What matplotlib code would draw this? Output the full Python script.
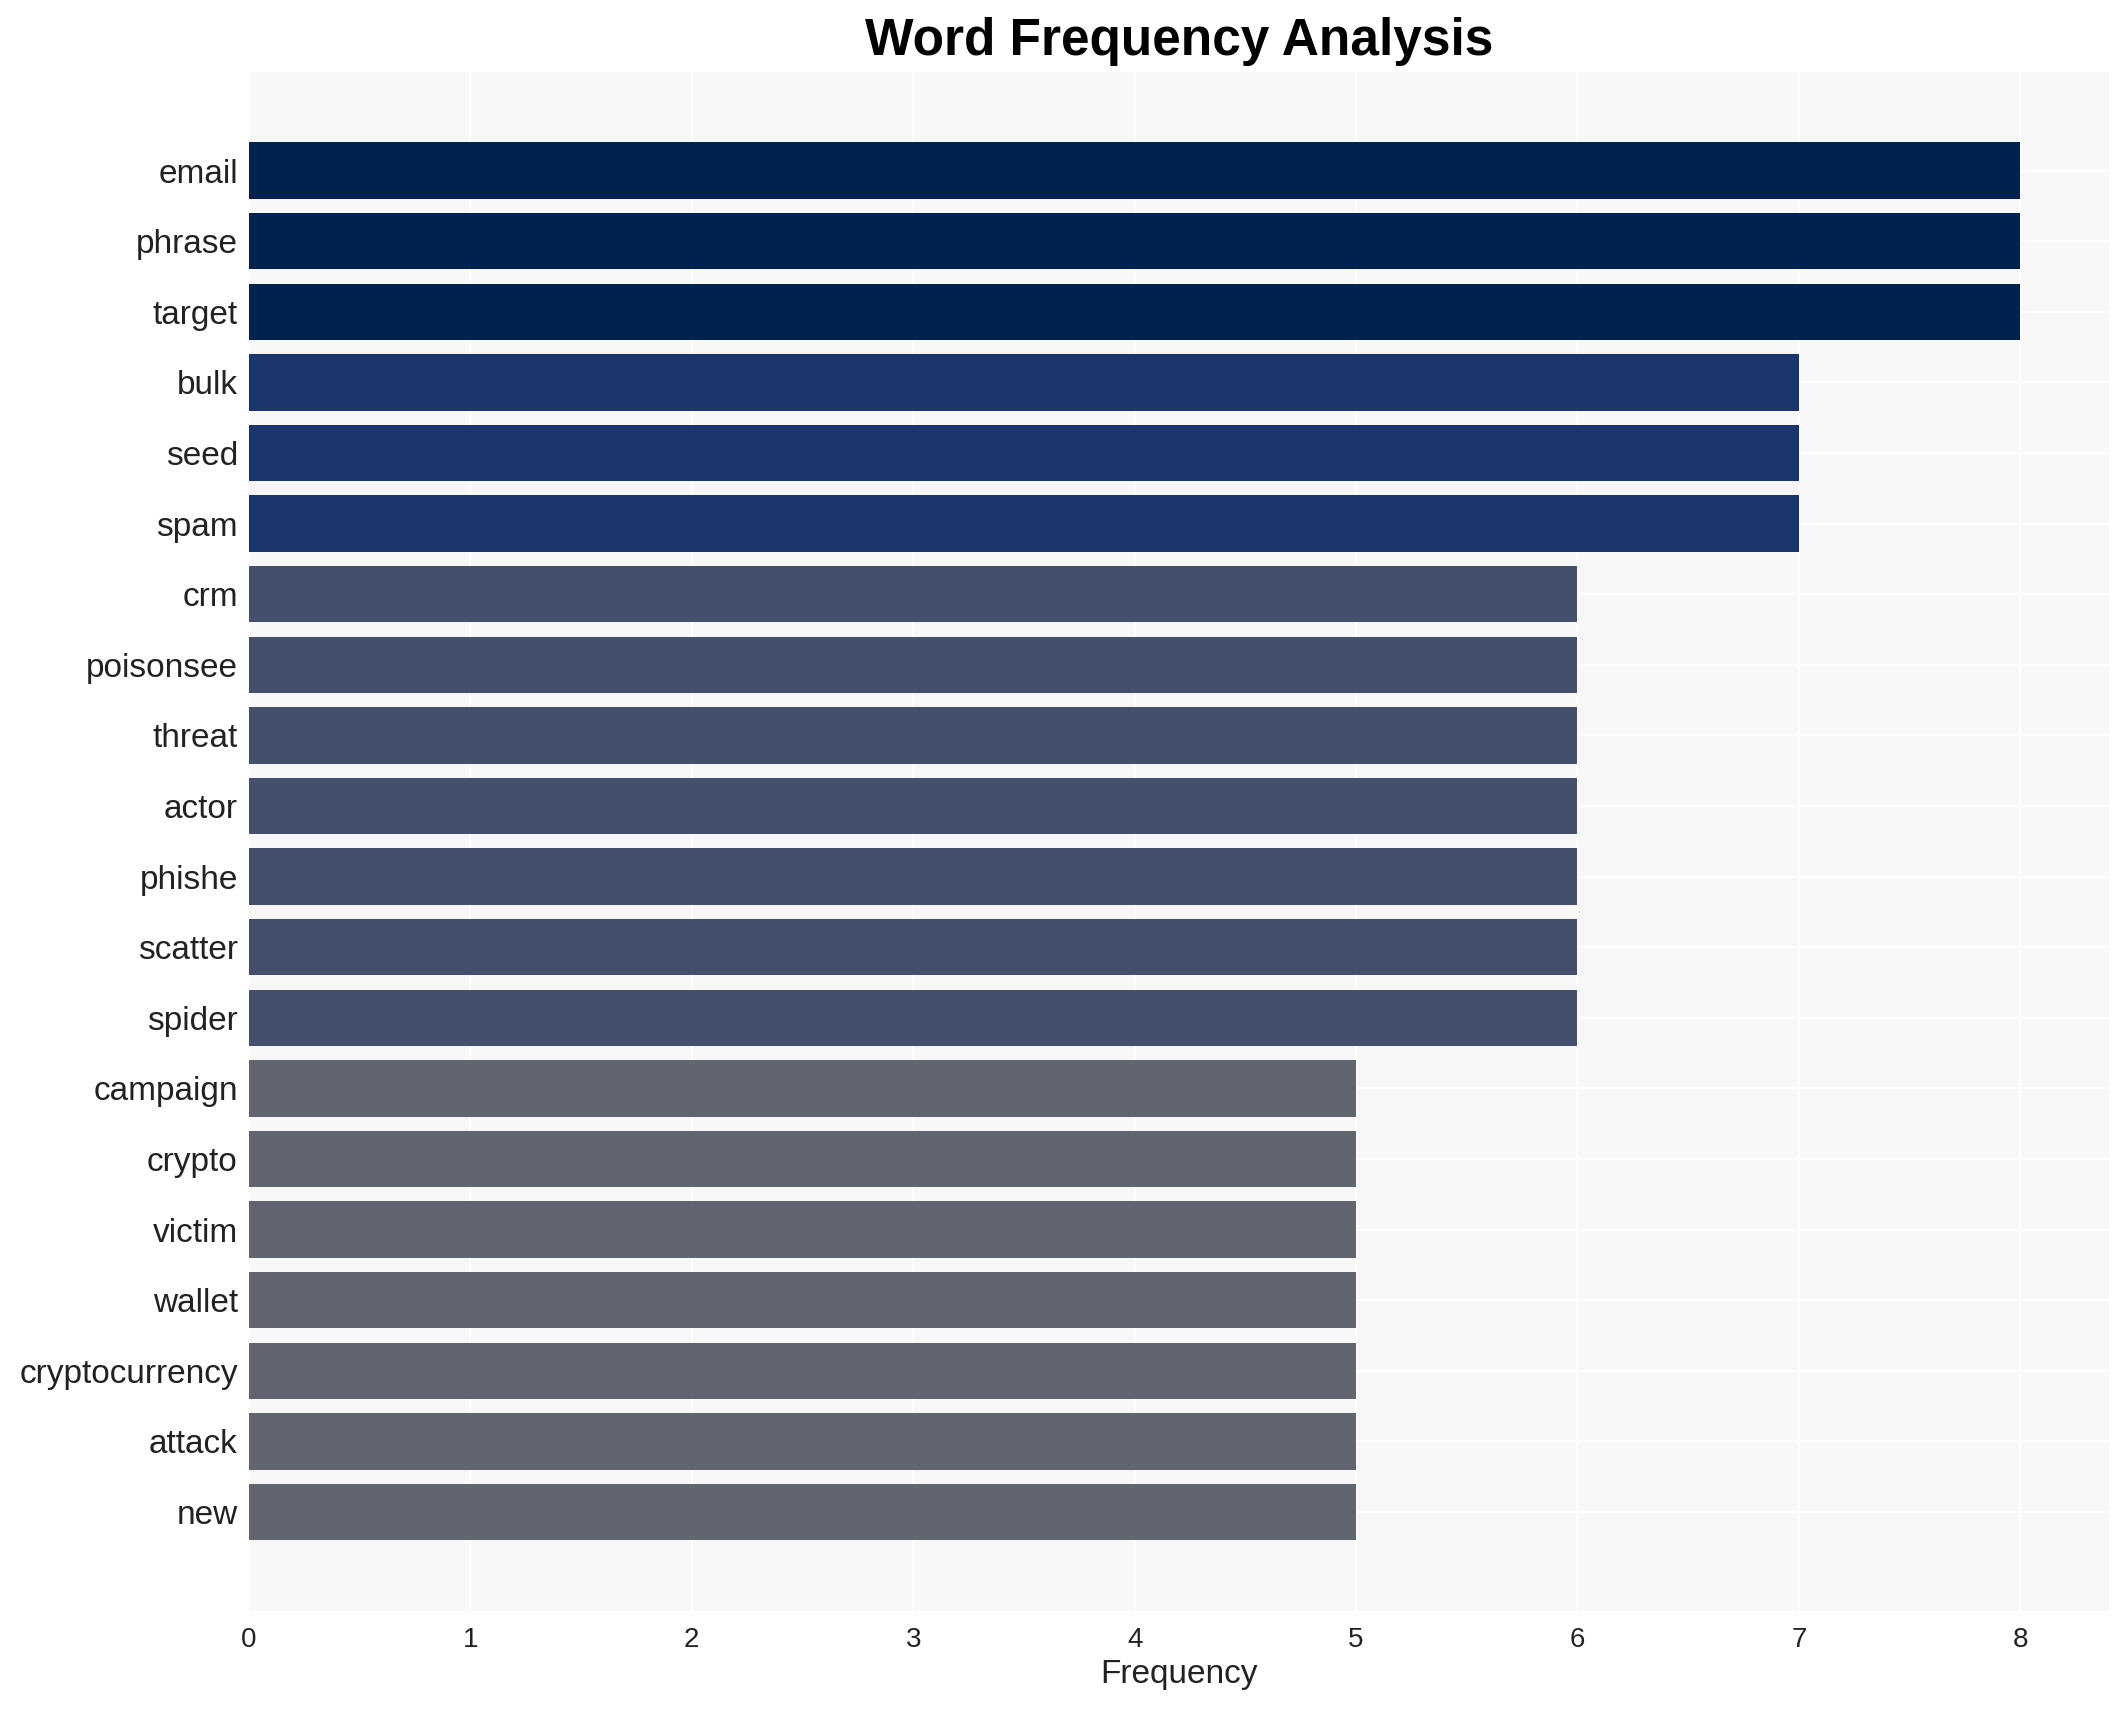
import numpy as np
import matplotlib.pyplot as plt

plt.rcParams['font.family'] = ['Liberation Sans', 'DejaVu Sans']

# dane: słowa i ich częstości
words = ['email', 'phrase', 'target', 'bulk', 'seed', 'spam', 'crm', 'poisonsee',
         'threat', 'actor', 'phishe', 'scatter', 'spider', 'campaign', 'crypto',
         'victim', 'wallet', 'cryptocurrency', 'attack', 'new']
counts = [8, 8, 8, 7, 7, 7, 6, 6, 6, 6, 6, 6, 6, 5, 5, 5, 5, 5, 5, 5]

# kolory zależne od częstości
palette = {8: '#00224e', 7: '#1a366d', 6: '#434f6c', 5: '#61656f'}
colors = [palette[c] for c in counts]

fig, ax = plt.subplots(figsize=(10.64, 8.55), dpi=200)
fig.subplots_adjust(left=0.117, right=0.991, top=0.958, bottom=0.058)

y = np.arange(len(words))
ax.barh(y, counts, height=0.8, color=colors, zorder=2)

ax.set_facecolor('#f7f7f7')
ax.grid(True, color='white', linewidth=0.8, zorder=0)
ax.set_axisbelow(True)
for s in ax.spines.values():
    s.set_visible(False)

ax.set_yticks(y)
ax.set_yticklabels(words, fontsize=12, color='#222222')
ax.set_ylim(len(words) - 1 + 1.4, -1.4)
ax.set_xlim(0, 8.4)
ax.set_xticks(range(0, 9))
ax.tick_params(axis='x', labelsize=10, colors='#222222', length=0, pad=6)
ax.tick_params(axis='y', length=0, pad=4)

ax.set_xlabel('Frequency', fontsize=12, color='#222222', labelpad=2)
ax.set_title('Word Frequency Analysis', fontsize=18.5, fontweight='bold', pad=6)

plt.savefig('out.png', dpi=200)
